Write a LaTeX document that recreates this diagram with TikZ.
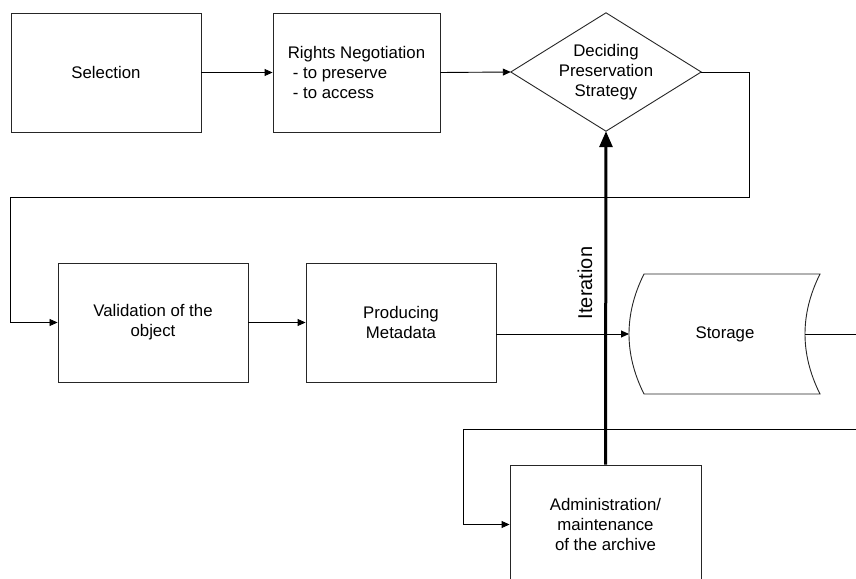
\documentclass[tikz,border=0pt]{standalone}
\usepackage{fontspec}
\setmainfont{Liberation Sans}
\usetikzlibrary{arrows.meta,calc}
\begin{document}
\begin{tikzpicture}[x=1bp,y=-1bp,
  txt/.style={font=\fontsize{16.8bp}{20bp}\selectfont, align=center, inner sep=0pt},
  box/.style={txt, draw=black!85, line width=0.9bp, minimum width=190bp, minimum height=119bp},
  frame/.style={txt, minimum width=190bp, minimum height=118bp},
  ln/.style={line width=0.9bp, draw=black},
  arr/.style={ln, -{Triangle[length=8bp,width=7bp]}},
  thick arr/.style={line width=3bp, -{Triangle[length=16bp,width=13bp]}}
]
\clip (0,0) rectangle (856,579);
\fill[white] (0,0) rectangle (856,579);

% boxes
\node[box] (sel) at (106,72.5) {Selection};
\node[box, minimum width=167bp, align=left] (rig) at (356.5,72.5) {Rights Negotiation\\\hspace*{5bp}- to preserve\\\hspace*{5bp}- to access};
\node[frame] (dec) at (606,72) {Deciding\\Preservation\\Strategy};
\draw[ln, draw=black!85] (dec.north) -- (dec.east) -- (dec.south) -- (dec.west) -- cycle;

\node[box] (val) at (153,322.5) {Validation of the\\object};
\node[box] (prod) at (401,322.5) {Producing\\Metadata};

% storage
\node[txt] (sto) at (725,334) {Storage};
\coordinate (stoL) at (629,334);
\coordinate (stoR) at (805,334);
\draw[ln, draw=black!85] (644,274) -- (820,274) .. controls (800,314) and (800,354) .. (820,394)
  -- (644,394) .. controls (624,354) and (624,314) .. (644,274) -- cycle;

\node[box, minimum width=191bp] (adm) at (605.5,524.5) {Administration/\\maintenance\\of the archive};

% connector helper points
\coordinate (t1) at (749,197);
\coordinate (t2) at (10,197);
\coordinate (outR) at (856,334);
\coordinate (b1) at (856,429);
\coordinate (b2) at (463,429);

% connectors
\draw[arr] (sel.east) -- (rig.west);
\draw[arr] (rig.east) -- (dec.west);
\draw[arr] (dec.east) -| (t1) -- (t2) |- (val.west);
\draw[arr] (val.east) -- (prod.west);
\draw[arr] (prod.east |- stoL) -- (stoL);
\draw[ln] (stoR) -- (outR);
\draw[arr] (b1) -- (b2) |- (adm.west);
\draw[thick arr] (adm.north) -- (dec.south);

\node[txt, rotate=90, font=\fontsize{20bp}{24bp}\selectfont] (itl) at (585,283) {Iteration};
\end{tikzpicture}
\end{document}
